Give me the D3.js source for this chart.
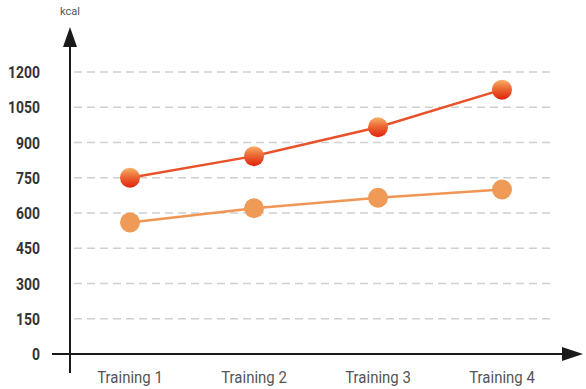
<!DOCTYPE html>
<html>
<head>
<meta charset="utf-8">
<title>kcal per training</title>
<script src="https://d3js.org/d3.v7.min.js"></script>
<style>
    body { margin: 0; background: #fff; }
    svg { display: block; }
    .ytick text { font-family: Roboto, sans-serif; font-weight: bold; font-size: 17px; fill: #333; }
    .xtick text { font-family: Roboto, sans-serif; font-size: 17px; fill: #555; }
</style>
</head>
<body>
<svg width="586" height="389"></svg>
<script>
    const categories = ["Training 1", "Training 2", "Training 3", "Training 4"];
    const seriesHigh = [750, 842, 965, 1125];
    const seriesLow = [560, 620, 665, 700];
    const yTicks = [0, 150, 300, 450, 600, 750, 900, 1050, 1200];

    const svg = d3.select("svg");

    const x = d3.scalePoint().domain(categories).range([130, 502]);
    const y = d3.scaleLinear().domain([0, 1200]).range([354, 72]);

    // gradient for the upper series dots
    const defs = svg.append("defs");
    const grad = defs.append("linearGradient")
        .attr("id", "redDot").attr("x1", 0).attr("y1", 0).attr("x2", 0).attr("y2", 1);
    grad.append("stop").attr("offset", "0%").attr("stop-color", "#f8b068");
    grad.append("stop").attr("offset", "45%").attr("stop-color", "#ec6a35");
    grad.append("stop").attr("offset", "100%").attr("stop-color", "#e0200c");

    // grid lines
    svg.append("g").selectAll("line")
        .data(yTicks.filter(d => d > 0))
        .join("line")
        .attr("x1", 74).attr("x2", 554)
        .attr("y1", d => y(d)).attr("y2", d => y(d))
        .attr("stroke", "#d0d0d0")
        .attr("stroke-width", 1.5)
        .attr("stroke-dasharray", "8,5");

    // y tick labels (narrow look)
    svg.append("g").attr("class", "ytick")
        .selectAll("text")
        .data(yTicks)
        .join("text")
        .attr("transform", d => `translate(40,${y(d) + 6}) scale(0.82,1)`)
        .attr("text-anchor", "end")
        .text(d => d);

    // x tick labels
    svg.append("g").attr("class", "xtick")
        .selectAll("text")
        .data(categories)
        .join("text")
        .attr("transform", d => `translate(${x(d)},383) scale(0.88,1)`)
        .attr("text-anchor", "middle")
        .text(d => d);

    // axes with arrows
    const axis = svg.append("g").attr("stroke", "#1a1a1a").attr("fill", "#1a1a1a");
    axis.append("line").attr("x1", 70).attr("x2", 70).attr("y1", 373).attr("y2", 44).attr("stroke-width", 2);
    axis.append("path").attr("d", "M63,47 L70,27 L77,47 Z").attr("stroke", "none");
    axis.append("line").attr("x1", 52).attr("x2", 566).attr("y1", y(0)).attr("y2", y(0)).attr("stroke-width", 2);
    axis.append("path").attr("d", `M562,${y(0) - 7} L583,${y(0)} L562,${y(0) + 7} Z`).attr("stroke", "none");

    svg.append("text")
        .attr("x", 70).attr("y", 15)
        .attr("text-anchor", "middle")
        .attr("font-family", "Roboto, sans-serif")
        .attr("font-size", 11)
        .attr("fill", "#555")
        .text("kcal");

    const line = d3.line().x((d, i) => x(categories[i])).y(d => y(d));

    function drawSeries(values, stroke, fill) {
        svg.append("path")
            .datum(values)
            .attr("d", line)
            .attr("fill", "none")
            .attr("stroke", stroke)
            .attr("stroke-width", 2.5);
        svg.append("g").selectAll("circle")
            .data(values)
            .join("circle")
            .attr("cx", (d, i) => x(categories[i]))
            .attr("cy", d => y(d))
            .attr("r", 10)
            .attr("fill", fill);
    }

    drawSeries(seriesLow, "#f09654", "#f09a58");
    drawSeries(seriesHigh, "#e8522a", "url(#redDot)");
</script>
</body>
</html>
